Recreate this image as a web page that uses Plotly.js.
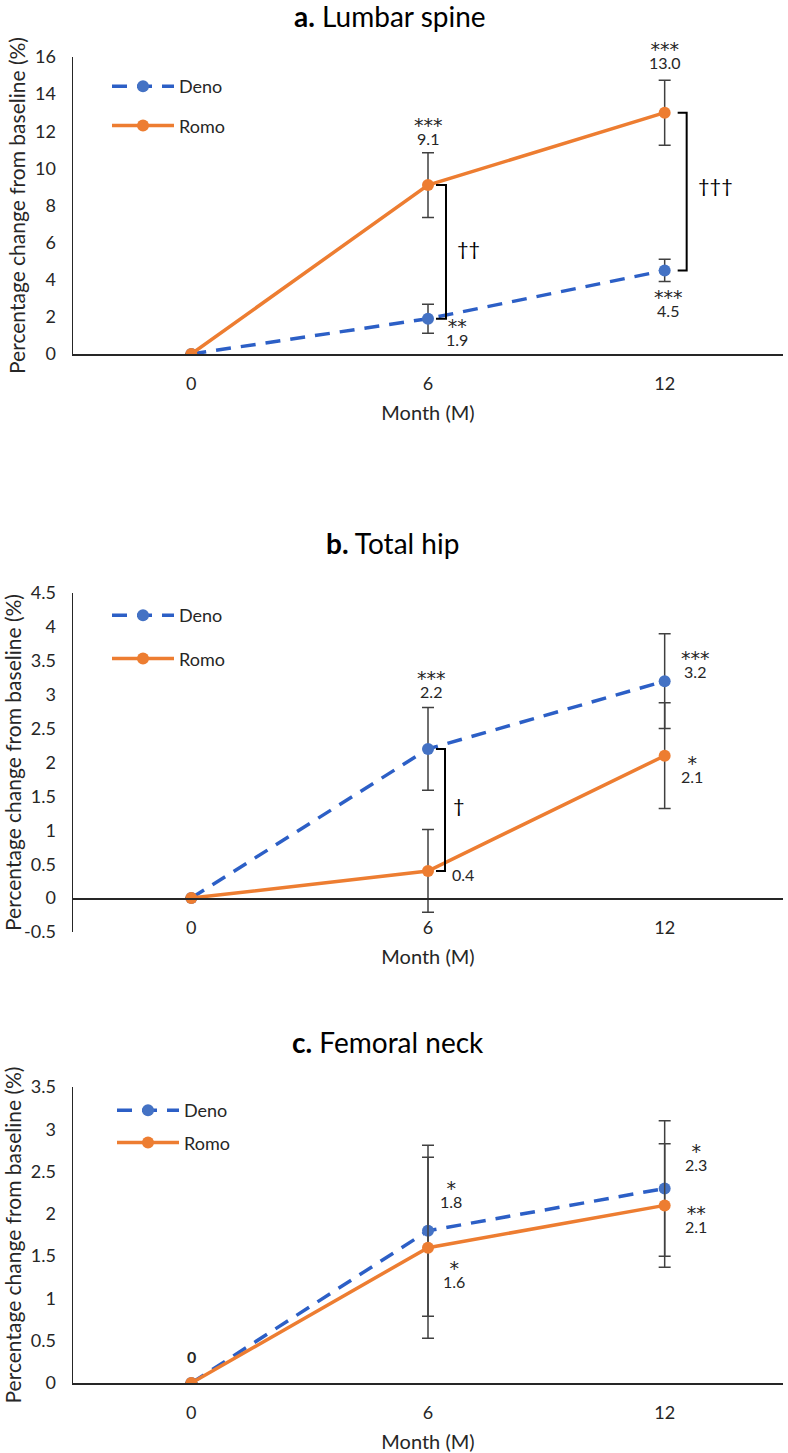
<!DOCTYPE html>
<html>
<head>
<meta charset="utf-8">
<script src="https://cdn.plot.ly/plotly-3.0.1.min.js"></script>
<style>
  body { margin: 0; background: #fff; }
  #chart { width: 788px; height: 1453px; }
</style>
</head>
<body>
<div id="chart"></div>
<script>
// x axis: months from baseline
const months = ['0', '6', '12'];

// a. Lumbar spine
const lumbarDeno = [0, 1.9, 4.5];
const lumbarDenoSd = [null, 0.78, 0.6];
const lumbarRomo = [0, 9.1, 13.0];
const lumbarRomoSd = [null, 1.74, 1.75];
const lumbarDenoStars = ['', '**', '***'];
const lumbarRomoStars = ['', '***', '***'];
const lumbarDaggers = ['', '††', '†††'];

// b. Total hip
const hipDeno = [0, 2.2, 3.2];
const hipDenoSd = [null, 0.61, 0.7];
const hipRomo = [0, 0.4, 2.1];
const hipRomoSd = [null, 0.61, 0.78];
const hipDenoStars = ['', '***', '***'];
const hipRomoStars = ['', '', '*'];
const hipDaggers = ['', '†', ''];

// c. Femoral neck
const neckDeno = [0, 1.8, 2.3];
const neckDenoSd = [null, 1.01, 0.8];
const neckRomo = [0, 1.6, 2.1];
const neckRomoSd = [null, 1.07, 0.73];
const neckDenoStars = ['', '*', '*'];
const neckRomoStars = ['', '*', '**'];

// y axis ticks
const lumbarTicks = [0, 2, 4, 6, 8, 10, 12, 14, 16];
const hipTicks = [-0.5, 0, 0.5, 1, 1.5, 2, 2.5, 3, 3.5, 4, 4.5];
const neckTicks = [0, 0.5, 1, 1.5, 2, 2.5, 3, 3.5];

const W = 788, H = 1453;
const FONT = 'Lato, "Liberation Sans", sans-serif';
const INK = '#262626';

const denoStyle = {
  line: { color: '#2c5fc6', width: 3.5, dash: '15px,10px' },
  marker: { color: '#4472c4', size: 12 }
};
const romoStyle = {
  line: { color: '#ed7d31', width: 3.5 },
  marker: { color: '#ed7d31', size: 12 }
};

function sfx(n) { return n === 1 ? '' : String(n); }

function series(name, y, sd, n, style) {
  return {
    x: months, y: y, name: name, type: 'scatter', mode: 'lines+markers',
    xaxis: 'x' + sfx(n), yaxis: 'y' + sfx(n),
    legend: 'legend' + sfx(n), legendgroup: name + n,
    line: style.line, marker: style.marker,
    error_y: { type: 'data', array: sd, visible: true, color: '#404040', thickness: 1.5, width: 6 },
    hoverinfo: 'x+y'
  };
}

let data = [
  series('Deno', lumbarDeno, lumbarDenoSd, 1, denoStyle),
  series('Romo', lumbarRomo, lumbarRomoSd, 1, romoStyle),
  series('Deno', hipDeno, hipDenoSd, 2, denoStyle),
  series('Romo', hipRomo, hipRomoSd, 2, romoStyle),
  series('Deno', neckDeno, neckDenoSd, 3, denoStyle),
  series('Romo', neckRomo, neckRomoSd, 3, romoStyle)
];

// pixel rows of each panel (top of y axis, bottom of y axis)
function yDomain(topPx, bottomPx) { return [1 - bottomPx / H, 1 - topPx / H]; }
const domA = yDomain(57, 354);
const domB = yDomain(593, 932);
const domC = yDomain(1087, 1383);
const hipRange = [-0.5, 4.5];
// x axis of the hip panel crosses at y = 0
const hipZero = domB[0] + (0 - hipRange[0]) / (hipRange[1] - hipRange[0]) * (domB[1] - domB[0]);

function xAxis(n, extra) {
  return Object.assign({
    type: 'category', range: [-0.5, 2.5], domain: [73 / W, 783 / W],
    anchor: 'y' + sfx(n),
    showline: true, linecolor: INK, linewidth: 1.5,
    ticks: '', showgrid: false, zeroline: false,
    tickfont: { size: 18, color: INK }, ticklabelstandoff: 13,
    title: { text: 'Month (M)', font: { size: 20, color: INK }, standoff: 13 },
    fixedrange: true
  }, extra || {});
}

function yAxis(n, domain, range, ticks) {
  return {
    domain: domain, range: range, anchor: 'x' + sfx(n),
    tickvals: ticks, ticktext: ticks.map(String),
    showline: true, linecolor: INK, linewidth: 1.5,
    ticks: '', showgrid: false, zeroline: false,
    tickfont: { size: 18, color: INK }, ticklabelstandoff: 12,
    title: { text: 'Percentage change from baseline (%)', font: { size: 21, color: INK }, standoff: 3 },
    fixedrange: true
  };
}

function legendAt(leftPx, topPx, gap) {
  return {
    x: leftPx / W, y: 1 - topPx / H, xanchor: 'left', yanchor: 'top',
    font: { size: 18, color: INK }, itemwidth: 62, tracegroupgap: gap,
    bgcolor: 'rgba(0,0,0,0)'
  };
}

let annotations = [];
let shapes = [];

// significance stars stacked over the value; the bottom of the box sits just under the digits
function label(n, i, y, starText, dx, dy, valueText) {
  const val = valueText !== undefined ? valueText : y.toFixed(1);
  let text = '<span style="font-size:16px">' + val + '</span>';
  if (starText) {
    text = '<span style="font-family:DejaVu Sans;font-size:19px">' + starText + '</span><br>' + text;
  }
  annotations.push({
    xref: 'x' + sfx(n), yref: 'y' + sfx(n), x: i, y: y, text: text,
    showarrow: false, xanchor: 'center', yanchor: 'bottom',
    xshift: dx, yshift: -(dy + 11),
    font: { size: 10, color: INK }
  });
}

function bracket(n, i, yTop, yBottom, arm0, arm1, dagger, tdx, tdy) {
  shapes.push({
    type: 'path', xref: 'x' + sfx(n), yref: 'y' + sfx(n),
    xsizemode: 'pixel', xanchor: i,
    path: 'M' + arm0 + ',' + yTop + 'L' + arm1 + ',' + yTop + 'L' + arm1 + ',' + yBottom + 'L' + arm0 + ',' + yBottom,
    line: { color: '#000', width: 2 }
  });
  annotations.push({
    xref: 'x' + sfx(n), yref: 'y' + sfx(n), x: i, y: (yTop + yBottom) / 2, text: dagger,
    showarrow: false, xshift: tdx, yshift: -tdy,
    font: { size: 20, color: '#000' }
  });
}

function title(text, centerPx, midPx) {
  annotations.push({
    xref: 'paper', yref: 'paper', x: centerPx / W, y: 1 - midPx / H,
    xanchor: 'center', yanchor: 'middle', showarrow: false,
    text: text, font: { size: 28, color: '#000' }
  });
}

// a. Lumbar spine
title('<b>a.</b> Lumbar spine', 390, 16);
label(1, 1, lumbarRomo[1], lumbarRomoStars[1], 0, -46);
label(1, 2, lumbarRomo[2], lumbarRomoStars[2], 0, -50);
label(1, 1, lumbarDeno[1], lumbarDenoStars[1], 29, 21);
label(1, 2, lumbarDeno[2], lumbarDenoStars[2], 4, 41);
bracket(1, 1, lumbarRomo[1], lumbarDeno[1], 8, 18, lumbarDaggers[1], 40, -4);
bracket(1, 2, lumbarRomo[2], lumbarDeno[2], 13, 22, lumbarDaggers[2], 51, -7);

// b. Total hip
title('<b>b.</b> Total hip', 392, 543);
label(2, 1, hipDeno[1], hipDenoStars[1], 3, -57);
label(2, 2, hipDeno[2], hipDenoStars[2], 31, -9);
label(2, 2, hipRomo[2], hipRomoStars[2], 27, 21);
label(2, 1, hipRomo[1], hipRomoStars[1], 35, 4);
bracket(2, 1, hipDeno[1], hipRomo[1], 8, 17, hipDaggers[1], 31, -5);

// c. Femoral neck
title('<b>c.</b> Femoral neck', 388, 1042);
label(3, 0, neckDeno[0], '', 0, -26, '<b>' + neckDeno[0] + '</b>');
label(3, 1, neckDeno[1], neckDenoStars[1], 23, -29);
label(3, 1, neckRomo[1], neckRomoStars[1], 26, 34);
label(3, 2, neckDeno[2], neckDenoStars[2], 31, -23);
label(3, 2, neckRomo[2], neckRomoStars[2], 31, 22);

let layout = {
  width: W, height: H,
  margin: { l: 0, r: 0, t: 0, b: 0 },
  paper_bgcolor: '#fff', plot_bgcolor: '#fff',
  font: { family: FONT, color: INK },
  showlegend: true,
  xaxis: xAxis(1),
  xaxis2: xAxis(2, { anchor: 'free', position: hipZero }),
  xaxis3: xAxis(3),
  yaxis: yAxis(1, domA, [0, 16], lumbarTicks),
  yaxis2: yAxis(2, domB, hipRange, hipTicks),
  yaxis3: yAxis(3, domC, [0, 3.5], neckTicks),
  legend: legendAt(107, 68, 13),
  legend2: legendAt(107, 597, 17),
  legend3: legendAt(112, 1092, 6),
  annotations: annotations,
  shapes: shapes
};

let config = { displayModeBar: false, staticPlot: true };

Plotly.newPlot('chart', data, layout, config);
</script>
</body>
</html>
